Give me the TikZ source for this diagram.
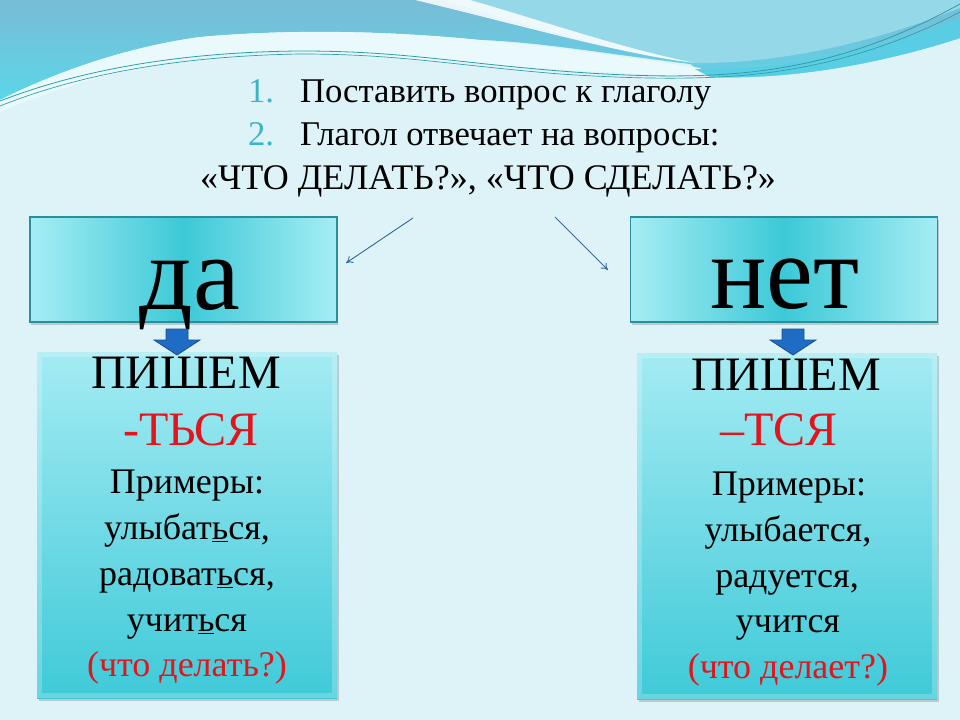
\documentclass[tikz,border=0pt]{standalone}
\usepackage{fontspec}
\setmainfont{Liberation Serif}
\usetikzlibrary{arrows.meta,shadows}
\definecolor{bg}{HTML}{DDF3F8}
\definecolor{topblue}{HTML}{78BCD6}
\definecolor{topcyan}{HTML}{5CD6E8}
\definecolor{lightband}{HTML}{EAF9FC}
\definecolor{trlight}{HTML}{95D8E8}
\definecolor{cyanband}{HTML}{58CDE4}
\definecolor{thinline}{HTML}{2E9EA8}
\definecolor{numteal}{HTML}{3BB5C5}
\definecolor{boxdark}{HTML}{3CC9D7}
\definecolor{boxlight}{HTML}{A6EDF4}
\definecolor{boxedge}{HTML}{2A8F9C}
\definecolor{lowtop}{HTML}{A4EBF3}
\definecolor{lowbot}{HTML}{3FCAD8}
\definecolor{arrowblue}{HTML}{1F6CC4}
\definecolor{arrowedge}{HTML}{1A4F8F}
\definecolor{connblue}{HTML}{3A6A9A}
\definecolor{redtxt}{HTML}{E3141B}
\tikzset{
  every node/.style={inner sep=0pt, outer sep=0pt},
  topbox/.style={draw=boxedge, line width=0.8pt, left color=boxlight, right color=boxlight, middle color=boxdark,
    minimum width=230.25pt, minimum height=78.75pt,
    drop shadow={shadow xshift=1pt, shadow yshift=-2pt, opacity=0.35}},
  lowbox/.style={top color=lowtop, bottom color=lowbot,
    minimum width=225pt, minimum height=259.5pt,
    drop shadow={shadow xshift=1.5pt, shadow yshift=-2pt, opacity=0.35}},
  glow/.style={draw=white, line width=4pt, opacity=0.22},
  blockarrow/.style={fill=arrowblue, draw=arrowedge, line width=0.6pt},
  thinarrow/.style={draw=connblue, line width=0.7pt, -{To[length=5pt,width=6pt]}},
  titletxt/.style={font=\fontsize{26}{30}\selectfont},
  bigtxt/.style={font=\fontsize{79}{90}\selectfont},
  headtxt/.style={font=\fontsize{36}{40}\selectfont},
  extxt/.style={font=\fontsize{27}{32}\selectfont}
}
\begin{document}
\begin{tikzpicture}[x=0.75pt,y=-0.75pt]
\useasboundingbox (0,0) rectangle (960,720);
\fill[bg] (0,0) rectangle (960,720);
% top decoration
\shade[top color=topblue, bottom color=topcyan]
  (0,0) -- (960,0) -- (960,38) .. controls (880,64) and (790,80) .. (710,77)
  -- (690,64) .. controls (600,53) and (540,42) .. (480,40)
  .. controls (400,32) and (300,28) .. (200,37)
  .. controls (120,48) and (50,75) .. (0,100) -- cycle;
\fill[lightband]
  (0,100) .. controls (50,75) and (120,48) .. (200,37)
  .. controls (300,28) and (400,32) .. (480,40)
  .. controls (540,45) and (620,56) .. (700,68) -- (710,77)
  .. controls (620,74) and (540,68) .. (480,64)
  .. controls (380,56) and (280,46) .. (200,57)
  .. controls (120,68) and (50,90) .. (0,112) -- cycle;
\fill[trlight] (440,0) .. controls (530,25) and (620,54) .. (695,63)
  .. controls (800,64) and (900,32) .. (960,8) -- (960,0) -- cycle;
\fill[white, opacity=0.85] (415,0) .. controls (520,25) and (620,54) .. (695,63)
  .. controls (620,48) and (540,20) .. (470,0) -- cycle;
\fill[cyanband] (695,69) .. controls (800,72) and (900,42) .. (960,18)
  -- (960,38) .. controls (880,64) and (790,80) .. (710,77) -- cycle;
\draw[thinline, line width=0.6pt]
  (0,101) .. controls (80,70) and (180,52) .. (300,51)
  .. controls (400,51) and (450,62) .. (560,71)
  .. controls (650,78) and (720,78) .. (780,68)
  .. controls (860,55) and (920,26) .. (960,4);
\draw[thinline, line width=0.5pt]
  (0,106) .. controls (80,74) and (180,56) .. (300,54)
  .. controls (400,54) and (450,65) .. (560,74)
  .. controls (650,80) and (720,80) .. (780,71)
  .. controls (860,59) and (920,33) .. (960,12);
% title
\node[titletxt, anchor=base west, text=numteal] (n1) at (248,103) {1.};
\node[titletxt, anchor=base west] (t1) at (300,103) {Поставить вопрос к глаголу};
\node[titletxt, anchor=base west, text=numteal] (n2) at (248,146) {2.};
\node[titletxt, anchor=base west] (t2) at (300,146) {Глагол отвечает на вопросы:};
\node[font=\fontsize{27}{31}\selectfont, anchor=base] (t3) at (488,190) {«ЧТО ДЕЛАТЬ?», «ЧТО СДЕЛАТЬ?»};
% top boxes
\node[topbox] (da) at (183.5,269.5) {};
\node[bigtxt, anchor=base] (datxt) at (190,310) {да};
\node[topbox] (net) at (784,269.5) {};
\node[bigtxt, anchor=base] (nettxt) at (785,308) {нет};
% connectors
\coordinate (a1s) at (413,218);
\coordinate (a1e) at (346,263);
\coordinate (a2s) at (555,217);
\coordinate (a2e) at (608,270);
\draw[thinarrow] (a1s) -- (a1e);
\draw[thinarrow] (a2s) -- (a2e);
% lower boxes
\node[lowbox] (lb) at (187,525) {};
\draw[glow] ([xshift=2pt,yshift=-2pt]lb.north west) rectangle ([xshift=-2pt,yshift=2pt]lb.south east);
\node[lowbox] (rb) at (787,526) {};
\draw[glow] ([xshift=2pt,yshift=-2pt]rb.north west) rectangle ([xshift=-2pt,yshift=2pt]rb.south east);
% block arrows
\filldraw[blockarrow] (166,329) -- (188,329) -- (188,340) -- (200,340) -- (177,355) -- (154,340) -- (166,340) -- cycle;
\filldraw[blockarrow] (782,329) -- (804,329) -- (804,340) -- (816,340) -- (793,355) -- (770,340) -- (782,340) -- cycle;
% left box text
\node[headtxt, anchor=base] (l1) at (186,388) {ПИШЕМ};
\node[headtxt, anchor=base, text=redtxt] (l2) at (191,445) {-ТЬСЯ};
\node[extxt, anchor=base] (l3) at (187,493) {Примеры:};
\node[extxt, anchor=base] (l4) at (187,539) {улыбат\underline{ь}ся,};
\node[extxt, anchor=base] (l5) at (187,585) {радоват\underline{ь}ся,};
\node[extxt, anchor=base] (l6) at (187,631) {учит\underline{ь}ся};
\node[extxt, anchor=base, text=redtxt] (l7) at (187,676) {(что делать?)};
% right box text
\node[headtxt, anchor=base] (r1) at (786,390) {ПИШЕМ};
\node[headtxt, anchor=base, text=redtxt] (r2) at (779,445) {–ТСЯ};
\node[extxt, anchor=base] (r3) at (789,495) {Примеры:};
\node[extxt, anchor=base] (r4) at (788,541) {улыбается,};
\node[extxt, anchor=base] (r5) at (787,587) {радуется,};
\node[extxt, anchor=base] (r6) at (788,632) {учится};
\node[extxt, anchor=base, text=redtxt] (r7) at (788,678) {(что делает?)};
\end{tikzpicture}
\end{document}
